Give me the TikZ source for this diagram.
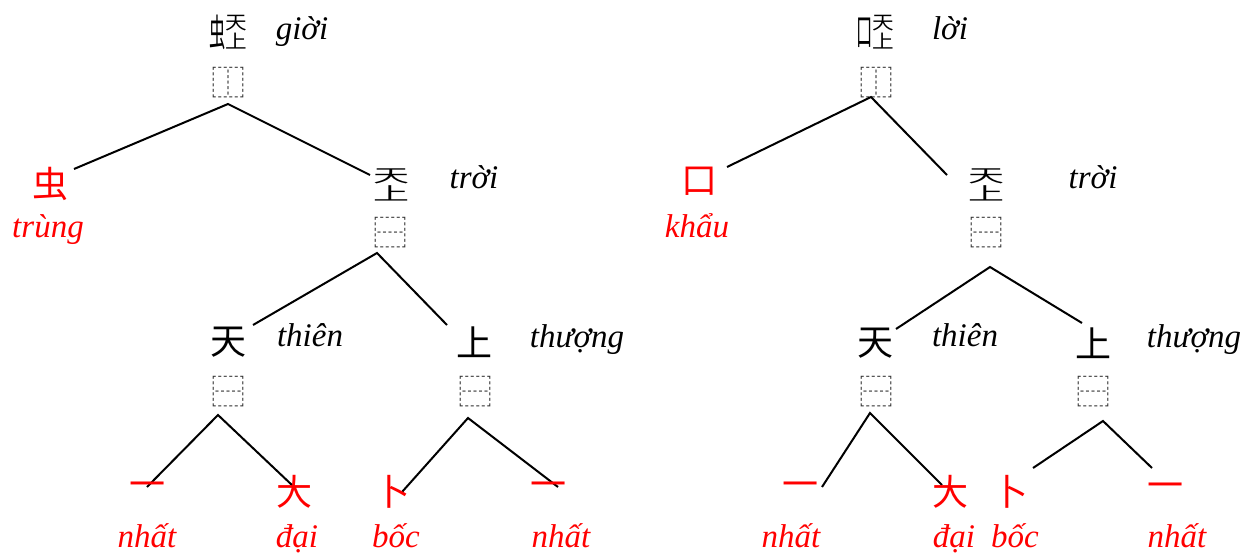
\documentclass[tikz,border=0pt]{standalone}
\usepackage{fontspec}
\usepackage{graphicx}
\setmainfont{Liberation Serif}
\newfontfamily\cjk{Noto Sans CJK SC}
\newcommand\tszh{\iffontchar\font"215F6 \char"215F6 \else\rlap{\raisebox{0.45em}{\scalebox{1}[0.5]{天}}}\raisebox{-0.07em}{\scalebox{1}[0.5]{上}}\fi}
\newcommand\gioichar{\scalebox{0.45}[1.04]{虫}\scalebox{0.6}[1.04]{\tszh}}
\newcommand\loichar{\scalebox{0.45}[1.04]{口}\scalebox{0.6}[1.04]{\tszh}}
\begin{document}
\begin{tikzpicture}[x=1pt,y=-1pt,
  hz/.style={inner sep=0pt, font=\cjk\fontsize{36}{36}\selectfont},
  part/.style={hz, text=red},
  idcbox/.style={inner sep=0pt, font=\cjk\fontsize{34}{34}\selectfont, text=black!80},
  lab/.style={inner sep=0pt, anchor=base, font=\itshape\fontsize{33}{36}\selectfont},
  plab/.style={lab, text=red},
  edge/.style={line width=2pt}]
\useasboundingbox (0,0) rectangle (1253,554);

% ---------- left tree ----------
\node[hz] (g) at (228,32) {\gioichar};
\node[lab] (gL) at (302,39) {giời};
\node[idcbox] (gI) at (228,83) {⿰};
\coordinate (gA) at (228,104);
\coordinate (gAl) at (74,169);
\coordinate (gAr) at (370,175);
\draw[edge] (gAl) -- (gA) -- (gAr);

\node[part] (trung) at (50,184) {虫};
\node[plab] (trungL) at (48,237) {trùng};

\node[hz] (t1) at (391,185) {\tszh};
\node[lab] (t1L) at (474,188) {trời};
\node[idcbox] (t1I) at (390,233) {⿱};
\coordinate (t1A) at (377,253);
\coordinate (t1Al) at (253,325);
\coordinate (t1Ar) at (447,325);
\draw[edge] (t1Al) -- (t1A) -- (t1Ar);

\node[hz] (th1) at (228,342) {天};
\node[lab] (th1L) at (310,346) {thiên};
\node[idcbox] (th1I) at (228,392) {⿱};
\coordinate (th1A) at (218,415);
\coordinate (th1Al) at (147,487);
\coordinate (th1Ar) at (293,486);
\draw[edge] (th1Al) -- (th1A) -- (th1Ar);

\node[hz] (tu1) at (474,342) {上};
\node[lab] (tu1L) at (577,347) {thượng};
\node[idcbox] (tu1I) at (475,392) {⿱};
\coordinate (tu1A) at (468,418);
\coordinate (tu1Al) at (402,492);
\coordinate (tu1Ar) at (558,487);
\draw[edge] (tu1Al) -- (tu1A) -- (tu1Ar);

\node[part] (n1) at (147,490) {一};
\node[plab] (n1L) at (147,547) {nhất};
\node[part] (d1) at (294,492) {大};
\node[plab] (d1L) at (297,547) {đại};
\node[part] (b1) at (392,492) {卜};
\node[plab] (b1L) at (396,547) {bốc};
\node[part] (m1) at (548,490) {一};
\node[plab] (m1L) at (561,547) {nhất};

% ---------- right tree ----------
\node[hz] (l) at (875,32) {\loichar};
\node[lab] (lL) at (950,39) {lời};
\node[idcbox] (lI) at (876,83) {⿰};
\coordinate (lA) at (871,97);
\coordinate (lAl) at (727,167);
\coordinate (lAr) at (947,175);
\draw[edge] (lAl) -- (lA) -- (lAr);

\node[part] (khau) at (699,181) {口};
\node[plab] (khauL) at (697,237) {khẩu};

\node[hz] (t2) at (986,185) {\tszh};
\node[lab] (t2L) at (1093,188) {trời};
\node[idcbox] (t2I) at (986,233) {⿱};
\coordinate (t2A) at (990,267);
\coordinate (t2Al) at (896,329);
\coordinate (t2Ar) at (1082,323);
\draw[edge] (t2Al) -- (t2A) -- (t2Ar);

\node[hz] (th2) at (875,343) {天};
\node[lab] (th2L) at (965,346) {thiên};
\node[idcbox] (th2I) at (876,392) {⿱};
\coordinate (th2A) at (870,413);
\coordinate (th2Al) at (822,487);
\coordinate (th2Ar) at (942,485);
\draw[edge] (th2Al) -- (th2A) -- (th2Ar);

\node[hz] (tu2) at (1093,343) {上};
\node[lab] (tu2L) at (1194,347) {thượng};
\node[idcbox] (tu2I) at (1093,392) {⿱};
\coordinate (tu2A) at (1103,421);
\coordinate (tu2Al) at (1033,468);
\coordinate (tu2Ar) at (1152,468);
\draw[edge] (tu2Al) -- (tu2A) -- (tu2Ar);

\node[part] (n2) at (800,490) {一};
\node[plab] (n2L) at (791,547) {nhất};
\node[part] (d2) at (950,492) {大};
\node[plab] (d2L) at (954,547) {đại};
\node[part] (b2) at (1010,492) {卜};
\node[plab] (b2L) at (1015,547) {bốc};
\node[part] (m2) at (1165,491) {一};
\node[plab] (m2L) at (1177,547) {nhất};
\end{tikzpicture}
\end{document}
